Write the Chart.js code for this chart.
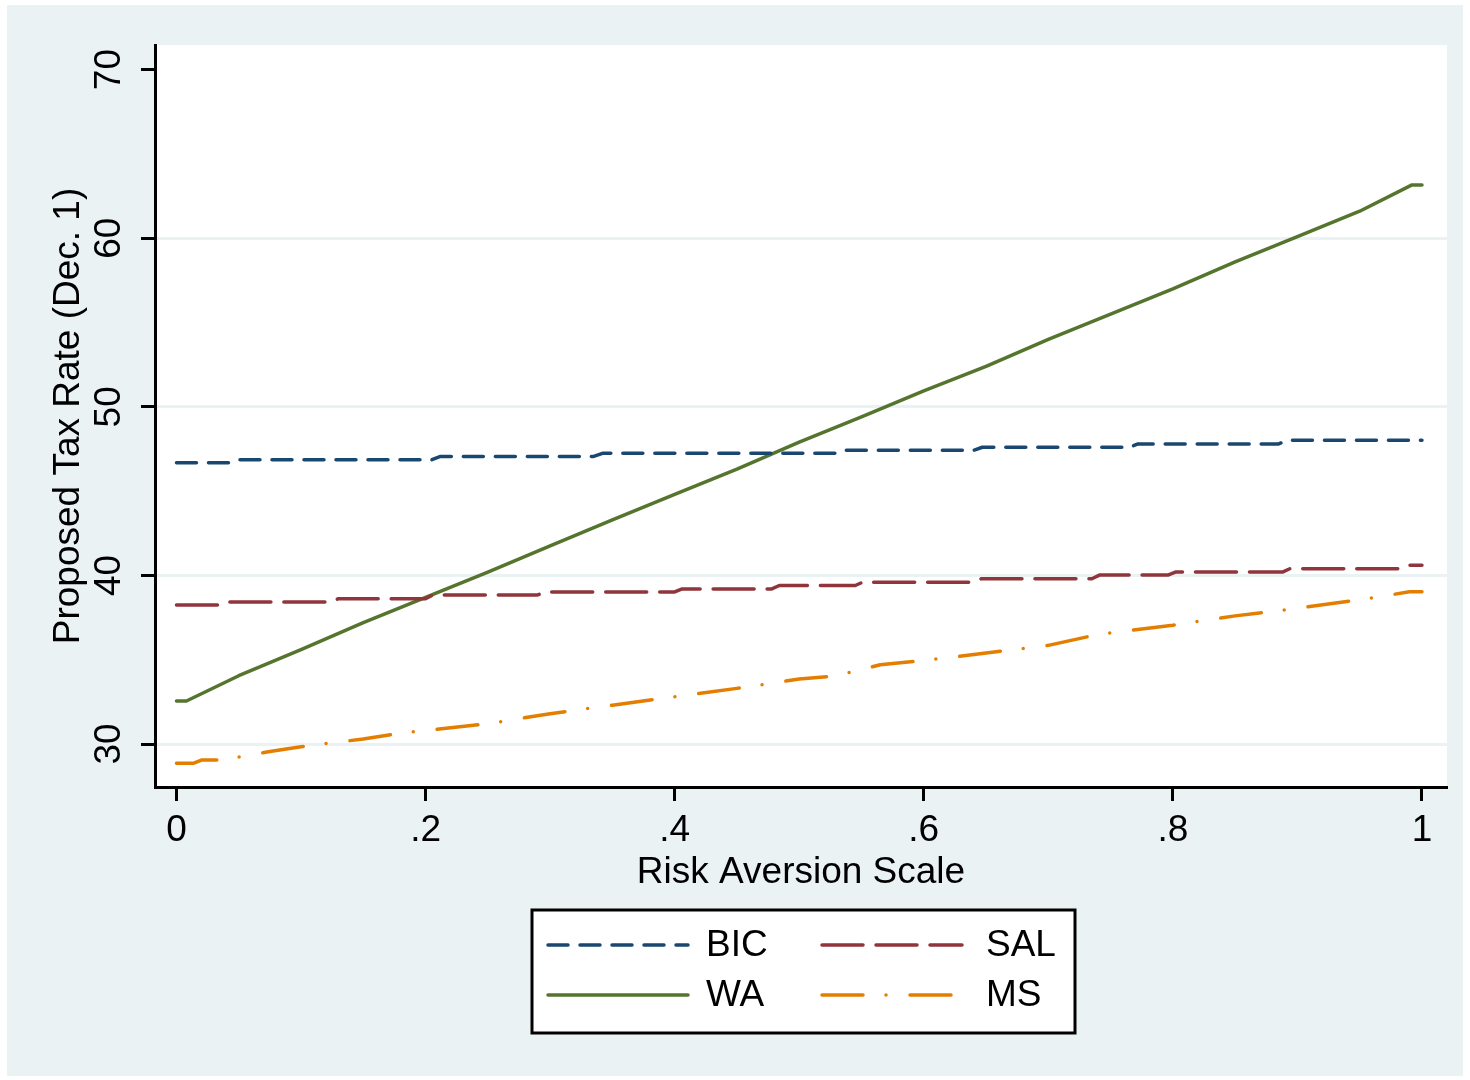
<!DOCTYPE html>
<html>
<head>
<meta charset="utf-8">
<title>Proposed Tax Rate by Risk Aversion</title>
<style>
  html, body { margin: 0; padding: 0; background: #ffffff; }
  #wrap { width: 1470px; height: 1080px; position: relative; }
  canvas { display: block; }
</style>
<script src="https://cdn.jsdelivr.net/npm/chart.js@4/dist/chart.umd.min.js"></script>
</head>
<body>
<div id="wrap"><canvas id="c" width="1470" height="1080"></canvas></div>
<script>
// Axis ticks
const xTicks = [0, 0.2, 0.4, 0.6, 0.8, 1];
const xTickLabels = ['0', '.2', '.4', '.6', '.8', '1'];
const yTicks = [30, 40, 50, 60, 70];
const yTickLabels = ['30', '40', '50', '60', '70'];

// Series names
const seriesNames = ['BIC', 'SAL', 'WA', 'MS'];

// BIC
const bicRisk = [0, 0.043, 0.05, 0.205, 0.212, 0.335, 0.342, 0.53, 0.537, 0.64, 0.647, 0.765, 0.772, 0.885, 0.892, 1];
const bicRate = [46.68, 46.68, 46.86, 46.86, 47.06, 47.06, 47.24, 47.24, 47.42, 47.42, 47.6, 47.6, 47.8, 47.8, 48.02, 48.02];

// SAL
const salRisk = [0, 0.036, 0.042, 0.124, 0.13, 0.2, 0.206, 0.29, 0.296, 0.4, 0.406, 0.478, 0.484, 0.545, 0.551, 0.64, 0.646, 0.735, 0.741, 0.796, 0.802, 0.888, 0.894, 0.982, 0.988, 1];
const salRate = [38.24, 38.24, 38.42, 38.42, 38.62, 38.62, 38.84, 38.84, 39.02, 39.02, 39.2, 39.2, 39.4, 39.4, 39.6, 39.6, 39.8, 39.8, 40.02, 40.02, 40.2, 40.2, 40.4, 40.4, 40.6, 40.6];

// WA
const waRisk = [0, 0.008, 0.05, 0.1, 0.15, 0.2, 0.25, 0.3, 0.35, 0.4, 0.45, 0.5, 0.55, 0.6, 0.65, 0.7, 0.75, 0.8, 0.85, 0.9, 0.95, 0.992, 1];
const waRate = [32.55, 32.55, 34.05, 35.6, 37.2, 38.7, 40.2, 41.75, 43.3, 44.8, 46.3, 47.9, 49.4, 50.95, 52.4, 54.0, 55.5, 57.0, 58.6, 60.1, 61.6, 63.16, 63.16];

// MS
const msRisk = [0, 0.014, 0.02, 0.045, 0.05, 0.075, 0.1, 0.15, 0.18, 0.2, 0.25, 0.3, 0.35, 0.4, 0.45, 0.5, 0.53, 0.565, 0.6, 0.65, 0.7, 0.74, 0.8, 0.85, 0.9, 0.95, 0.99, 1];
const msRate = [28.86, 28.86, 29.05, 29.05, 29.23, 29.55, 29.84, 30.3, 30.65, 30.8, 31.2, 31.8, 32.3, 32.8, 33.3, 33.85, 34.05, 34.7, 34.95, 35.4, 35.85, 36.5, 37.05, 37.6, 38.05, 38.55, 39.03, 39.03];

const seriesColors = ['#1A476F', '#90353B', '#55752F', '#E37E00'];
const seriesDashes = [[20, 12], [41, 13], [], [41, 23, 0, 24]];

const FONT = '"Liberation Sans", Arial, Helvetica, sans-serif';

function toPoints(xs, ys) {
  return xs.map((x, i) => ({ x: x, y: ys[i] }));
}

const seriesData = [
  toPoints(bicRisk, bicRate),
  toPoints(salRisk, salRate),
  toPoints(waRisk, waRate),
  toPoints(msRisk, msRate)
];

const datasets = seriesNames.map((name, i) => ({
  label: name,
  data: seriesData[i],
  borderColor: seriesColors[i],
  backgroundColor: seriesColors[i],
  borderWidth: 3.5,
  borderDash: seriesDashes[i],
  borderCapStyle: 'round',
  borderJoinStyle: 'round',
  pointRadius: 0,
  pointHoverRadius: 0,
  tension: 0,
  fill: false
}));

// Graph region background and white plot region
const backdropPlugin = {
  id: 'backdrop',
  beforeDraw(chart) {
    const ctx = chart.ctx;
    const a = chart.chartArea;
    ctx.save();
    ctx.fillStyle = '#ffffff';
    ctx.fillRect(0, 0, chart.width, chart.height);
    ctx.fillStyle = '#EAF2F3';
    ctx.fillRect(7, 5, 1456, 1071);
    ctx.fillStyle = '#ffffff';
    ctx.fillRect(a.left, a.top, a.right - a.left, a.bottom - a.top);
    ctx.restore();
  }
};

// Boxed two-column key below the plot
const boxedKeyPlugin = {
  id: 'boxedKey',
  afterDraw(chart, args, opts) {
    const ctx = chart.ctx;
    ctx.save();
    ctx.fillStyle = '#ffffff';
    ctx.fillRect(opts.left, opts.top, opts.right - opts.left, opts.bottom - opts.top);
    ctx.strokeStyle = '#000000';
    ctx.lineWidth = 3;
    ctx.setLineDash([]);
    ctx.strokeRect(opts.left, opts.top, opts.right - opts.left, opts.bottom - opts.top);

    ctx.font = opts.fontSize + 'px ' + FONT;
    ctx.textBaseline = 'middle';
    ctx.textAlign = 'left';
    chart.data.datasets.forEach((ds, i) => {
      const col = i % 2;
      const row = Math.floor(i / 2);
      const lx = opts.colLineStart[col];
      const lw = opts.lineLength;
      const y = opts.rowY[row];
      ctx.strokeStyle = ds.borderColor;
      ctx.lineWidth = ds.borderWidth;
      ctx.lineCap = ds.borderCapStyle;
      ctx.setLineDash(ds.borderDash);
      ctx.beginPath();
      ctx.moveTo(lx, y);
      ctx.lineTo(lx + lw, y);
      ctx.stroke();
      ctx.setLineDash([]);
      ctx.fillStyle = '#000000';
      ctx.fillText(ds.label, opts.colTextStart[col], y + 1);
    });
    ctx.restore();
  }
};

new Chart(document.getElementById('c'), {
  type: 'line',
  data: { datasets: datasets },
  plugins: [backdropPlugin, boxedKeyPlugin],
  options: {
    responsive: false,
    devicePixelRatio: 1,
    animation: false,
    events: [],
    layout: { padding: { left: 0, top: 45, right: 23, bottom: 0 } },
    plugins: {
      legend: { display: false },
      tooltip: { enabled: false },
      boxedKey: {
        left: 532, top: 910, right: 1075, bottom: 1033,
        colLineStart: [548, 822],
        colTextStart: [706, 986],
        lineLength: 140,
        rowY: [945, 995],
        fontSize: 37
      }
    },
    scales: {
      x: {
        type: 'linear',
        position: 'bottom',
        min: -0.01725,
        max: 1.0201,
        afterBuildTicks: (scale) => { scale.ticks = xTicks.map(v => ({ value: v })); },
        afterFit: (scale) => { scale.height = 293; },
        grid: {
          display: true,
          drawOnChartArea: false,
          drawTicks: true,
          tickLength: 14,
          tickColor: '#000000',
          tickWidth: 3
        },
        border: { display: true, color: '#000000', width: 3 },
        ticks: {
          autoSkip: false,
          maxRotation: 0,
          minRotation: 0,
          padding: 8,
          color: '#000000',
          font: { family: FONT, size: 37 },
          callback: (value, index) => xTickLabels[index]
        },
        title: {
          display: true,
          text: 'Risk Aversion Scale',
          color: '#000000',
          font: { family: FONT, size: 37 },
          padding: { top: 0, bottom: 185 }
        }
      },
      y: {
        type: 'linear',
        position: 'left',
        min: 27.45,
        max: 71.46,
        afterBuildTicks: (scale) => { scale.ticks = yTicks.map(v => ({ value: v })); },
        afterFit: (scale) => { scale.width = 155; },
        grid: {
          display: true,
          drawOnChartArea: true,
          drawTicks: true,
          tickLength: 14,
          lineWidth: 3,
          color: (c) => (c.tick && c.tick.value === 70 ? 'rgba(0,0,0,0)' : '#EAF2F3'),
          tickColor: '#000000',
          tickWidth: 3
        },
        border: { display: true, color: '#000000', width: 3 },
        ticks: {
          autoSkip: false,
          minRotation: 90,
          maxRotation: 90,
          crossAlign: 'center',
          padding: 11,
          color: '#000000',
          font: { family: FONT, size: 37 },
          callback: (value, index) => yTickLabels[index]
        },
        title: {
          display: true,
          text: 'Proposed Tax Rate (Dec. 1)',
          color: '#000000',
          font: { family: FONT, size: 37 },
          padding: { top: 47, bottom: 0 }
        }
      }
    }
  }
});
</script>
</body>
</html>
